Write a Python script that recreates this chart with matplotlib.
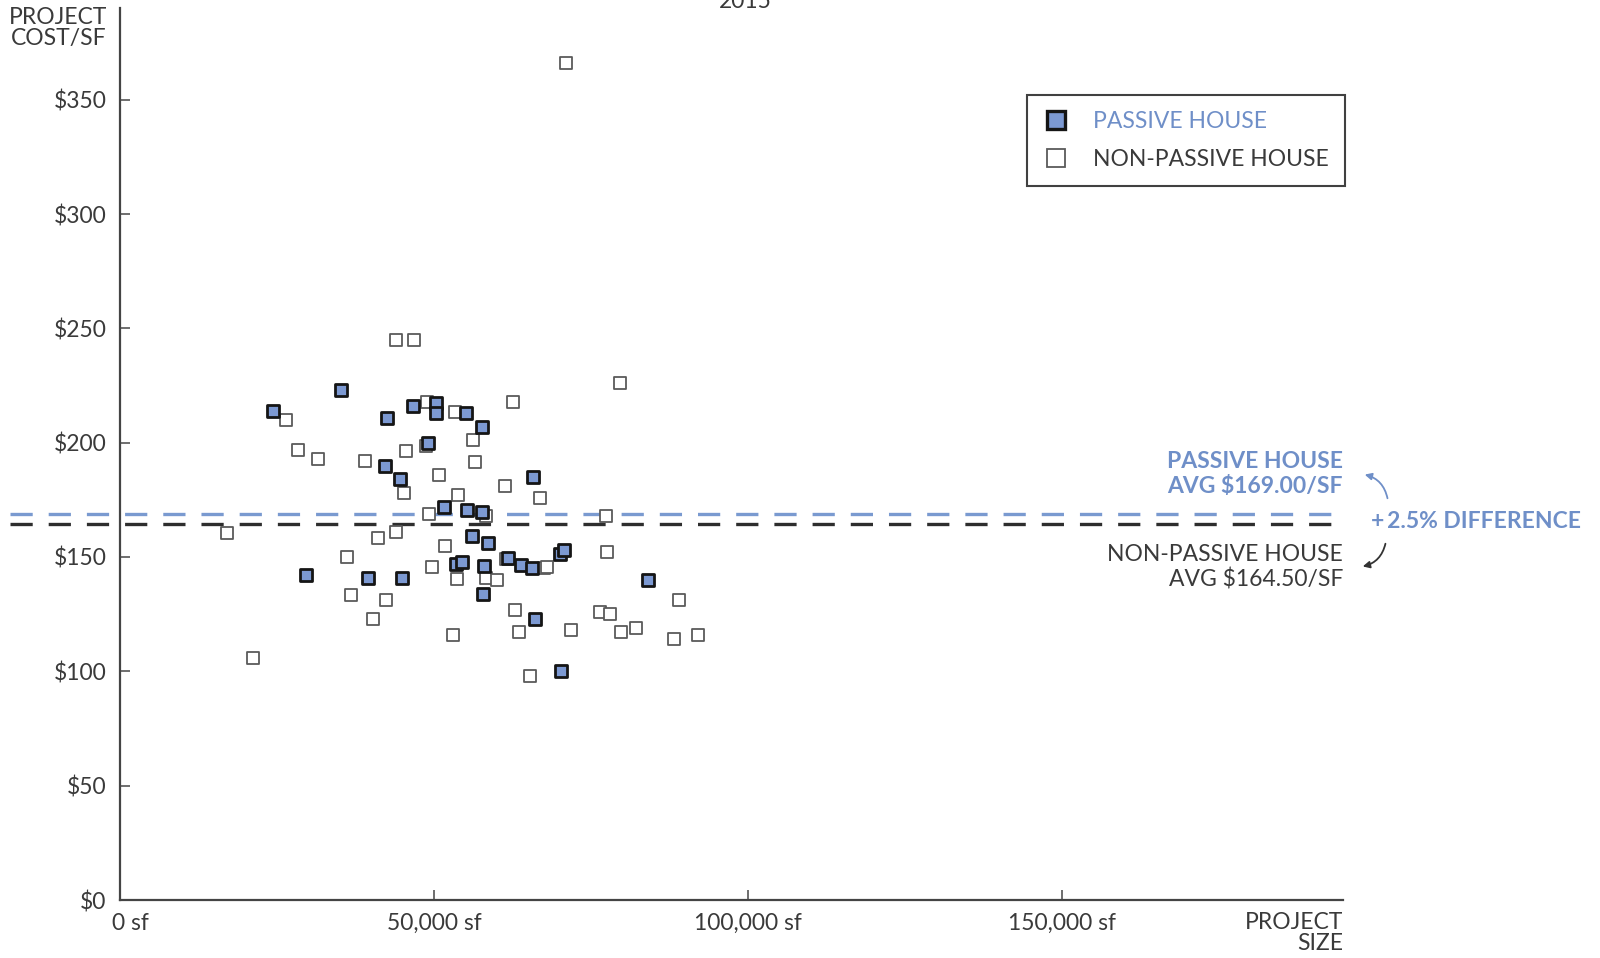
import matplotlib
matplotlib.use("Agg")
import matplotlib.pyplot as plt
from matplotlib.lines import Line2D
from matplotlib.patches import FancyArrowPatch
import matplotlib.transforms as mtransforms

plt.rcParams['font.family'] = ['Lato', 'DejaVu Sans']
plt.rcParams['lines.scale_dashes'] = False

# ---- data ----
passive_size = [24350, 35200, 42500, 46600, 50300, 50300, 55000, 57600, 49000, 42200,
                44600, 65700, 51500, 55200, 57600, 56000, 58600, 29500, 39400, 44800,
                53400, 54400, 57900, 57800, 61800, 63800, 65600, 70000, 70600, 66100,
                84100, 70100]
passive_cost = [214, 223, 211, 216, 217.5, 213, 213, 207, 200, 190,
                184, 185, 172, 170.5, 169.5, 159, 156, 142, 141, 141,
                147, 148, 146, 134, 149.5, 146.5, 145, 151.5, 153, 123,
                140, 100]

nonpassive_size = [71000, 43900, 46800, 79600, 62600, 26300, 48900, 53300, 28300, 31400,
                   39000, 45500, 48700, 56100, 56400, 50700, 45200, 61300, 66800, 53800,
                   49200, 58300, 77400, 16900, 43900, 41000, 51700, 36100, 61400, 77500,
                   49600, 53600, 58300, 60000, 67400, 68000, 36700, 42300, 40300, 62900,
                   63500, 53000, 71800, 76400, 78000, 79800, 82100, 88900, 88200, 92000,
                   21100, 65200]
nonpassive_cost = [366, 245, 245, 226, 218, 210, 218, 213.5, 197, 193,
                   192, 196.5, 198.5, 201, 191.5, 186, 178, 181, 176, 177,
                   169, 168, 168, 160.5, 161, 158.5, 155, 150, 149, 152,
                   145.5, 140.5, 141, 140, 145, 145.5, 133.5, 131, 123, 127,
                   117, 116, 118, 126, 125, 117, 119, 131, 114, 116,
                   106, 98]

passive_avg = 169.0
nonpassive_avg = 164.5

y_ticks = [0, 50, 100, 150, 200, 250, 300, 350]
y_labels = ['$0', '$50', '$100', '$150', '$200', '$250', '$300', '$350']
x_ticks = [0, 50000, 100000, 150000]
x_labels = ['0 sf', '50,000 sf', '100,000 sf', '150,000 sf']

BLUE = '#6f8fc8'
FILL = '#7c99d2'
TXT = '#3a3a3a'
FS = 16.5

W, H = 1600, 958
fig = plt.figure(figsize=(16, 9.58), dpi=100)
ax_left, ax_right = 120.4 / W, 1343 / W
ax_bottom, ax_top = 1 - 900 / H, 1 - 8.2 / H
ax = fig.add_axes([ax_left, ax_bottom, ax_right - ax_left, ax_top - ax_bottom])

ax.set_xlim(0, 194700)
ax.set_ylim(0, 390)

for s in ['top', 'right']:
    ax.spines[s].set_visible(False)
for s in ['left', 'bottom']:
    ax.spines[s].set_color('#444444')
    ax.spines[s].set_linewidth(1.6)

ax.set_yticks(y_ticks)
ax.set_yticklabels(y_labels)
ax.set_xticks(x_ticks)
ax.set_xticklabels(x_labels)
ax.tick_params(axis='both', direction='in', length=7, width=1.2, color='#555555',
               labelsize=FS, labelcolor=TXT)
ax.tick_params(axis='y', pad=10)
ax.tick_params(axis='x', pad=9)
# nudge "0 sf" right
lab0 = ax.get_xticklabels()[0]
lab0.set_transform(lab0.get_transform() + mtransforms.ScaledTranslation(10 / 100, 0, fig.dpi_scale_trans))

# points
ax.scatter(nonpassive_size, nonpassive_cost, marker='s', s=72, facecolor='white',
           edgecolor='#5a5a5a', linewidth=1.3, zorder=3)
ax.scatter(passive_size, passive_cost, marker='s', s=72, facecolor=FILL,
           edgecolor='#151515', linewidth=2.0, zorder=4)

# average lines (extend left of axis)
trans = ax.get_yaxis_transform()
x0 = (10 - 120.4) / (1343 - 120.4)
ax.plot([x0, 1.0], [passive_avg, passive_avg], transform=trans, clip_on=False,
        color='#7a9ad0', lw=2.4, dashes=(16, 11.5), zorder=2)
ax.plot([x0, 1.0], [nonpassive_avg, nonpassive_avg], transform=trans, clip_on=False,
        color='#2e2e2e', lw=2.4, dashes=(16, 11.5), zorder=2)

# axis titles
fig.text(107 / W, 1 - 28 / H, 'PROJECT\nCOST/SF', ha='right', va='center',
         fontsize=FS, color=TXT, linespacing=1.05)
fig.text(1343 / W, 1 - 933 / H, 'PROJECT\nSIZE', ha='right', va='center',
         fontsize=FS, color=TXT, linespacing=1.05)
fig.text(745 / W, 1 - 1 / H, '2015', ha='center', va='center', fontsize=FS, color=TXT)

# legend
handles = [
    Line2D([], [], marker='s', linestyle='none', markersize=12.5, markerfacecolor=FILL,
           markeredgecolor='#151515', markeredgewidth=2.4),
    Line2D([], [], marker='s', linestyle='none', markersize=12.5, markerfacecolor='white',
           markeredgecolor='#5a5a5a', markeredgewidth=1.3),
]
leg = ax.legend(handles, ['PASSIVE HOUSE', 'NON-PASSIVE HOUSE'], loc='upper right',
                bbox_to_anchor=(1.0016, 0.903), borderaxespad=0, fancybox=False,
                frameon=True, fontsize=FS, labelspacing=0.75, handletextpad=1.0,
                borderpad=0.7, handlelength=1.2)
leg.get_frame().set_edgecolor('#111111')
leg.get_frame().set_linewidth(1.5)
leg.get_texts()[0].set_color(BLUE)
leg.get_texts()[1].set_color(TXT)

# annotations
fig.text(1343 / W, 1 - 474 / H, 'PASSIVE HOUSE\nAVG $169.00/SF', ha='right',
         va='center', fontsize=FS, color=BLUE, fontweight='bold', linespacing=1.2)
fig.text(1343 / W, 1 - 567 / H, 'NON-PASSIVE HOUSE\nAVG $164.50/SF', ha='right',
         va='center', fontsize=FS, color=TXT, linespacing=1.2)
fig.text(1371 / W, 1 - 521 / H, '+\u20092.5% DIFFERENCE', ha='left', va='center',
         fontsize=FS, color=BLUE, fontweight='bold')

a1 = FancyArrowPatch((1388 / W, 1 - 501 / H), (1362 / W, 1 - 474 / H),
                     transform=fig.transFigure, connectionstyle='arc3,rad=0.35',
                     arrowstyle='-|>,head_length=4,head_width=2', color=BLUE, lw=1.3)
a2 = FancyArrowPatch((1386 / W, 1 - 541 / H), (1360 / W, 1 - 567 / H),
                     transform=fig.transFigure, connectionstyle='arc3,rad=-0.35',
                     arrowstyle='-|>,head_length=4,head_width=2', color='#333333', lw=1.3)
fig.patches.extend([a1, a2])

fig.savefig('out.png', dpi=100, facecolor='white')
